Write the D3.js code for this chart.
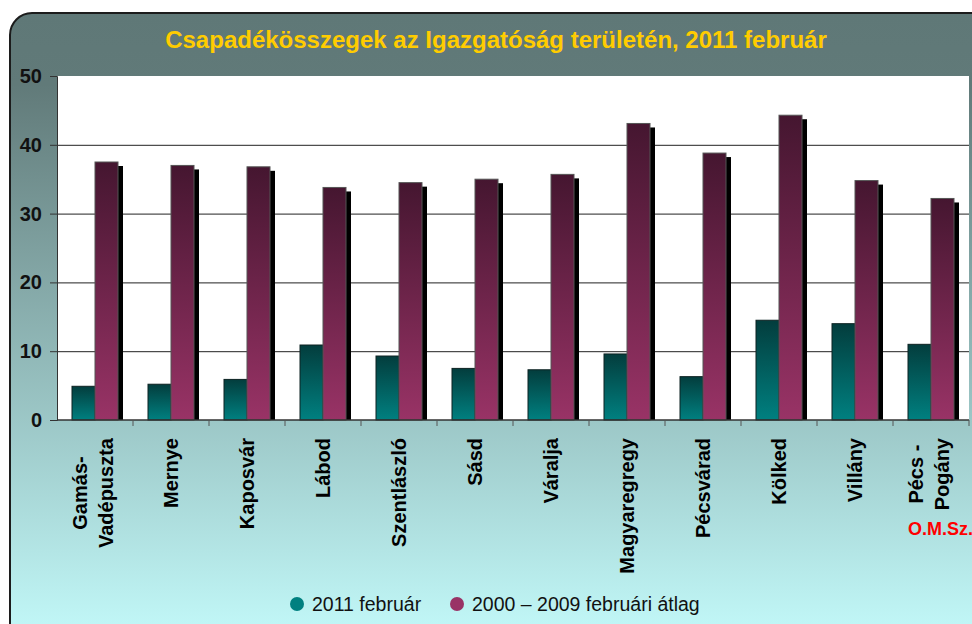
<!DOCTYPE html>
<html>
<head>
<meta charset="utf-8">
<script src="https://cdn.jsdelivr.net/npm/d3@7"></script>
<style>
  body { margin: 0; background: #fff; }
  svg { display: block; font-family: "Liberation Sans", Arial, sans-serif; }
</style>
</head>
<body>
<svg class="chart"></svg>
<script>
var width = 972,
    height = 624;

// data
var stations = ["Gamás-|Vadépuszta", "Mernye", "Kaposvár", "Lábod", "Szentlászló", "Sásd",
                "Váralja", "Magyaregregy", "Pécsvárad", "Kölked", "Villány", "Pécs -|Pogány"];
var feb2011 = [4.9, 5.2, 5.9, 10.9, 9.3, 7.5, 7.3, 9.6, 6.3, 14.5, 14.0, 11.0];
var avg0009 = [37.5, 37.0, 36.8, 33.8, 34.5, 35.0, 35.7, 43.1, 38.8, 44.3, 34.8, 32.2];
var seriesNames = ["2011 február", "2000 – 2009 februári átlag"];
var yTicks = [0, 10, 20, 30, 40, 50];

var margin = {left: 57, right: 3, top: 76, bottom: 204};

var x = d3.scaleBand()
    .domain(stations)
    .range([margin.left, width - margin.right])
    .padding(0);
var barW = 23;
var y = d3.scaleLinear()
    .domain([0, 50])
    .range([height - margin.bottom, margin.top]);

var chart = d3.select(".chart")
    .attr("width", width)
    .attr("height", height);

var defs = chart.append("defs");
var bg = defs.append("linearGradient").attr("id", "bg")
    .attr("x1", 0).attr("y1", 0).attr("x2", 0).attr("y2", 1);
bg.append("stop").attr("offset", "0%").attr("stop-color", "#5f7877");
bg.append("stop").attr("offset", "11%").attr("stop-color", "#617a79");
bg.append("stop").attr("offset", "100%").attr("stop-color", "#c7ffff");

function barGrad(id, top, bottom) {
  var g = defs.append("linearGradient").attr("id", id)
      .attr("x1", 0).attr("y1", 0).attr("x2", 0).attr("y2", 1);
  g.append("stop").attr("offset", "0%").attr("stop-color", top);
  g.append("stop").attr("offset", "100%").attr("stop-color", bottom);
}
barGrad("gTeal", "#033d3d", "#008080");
barGrad("gPurple", "#451630", "#993366");

// frame
chart.append("rect")
    .attr("x", 10).attr("y", 13)
    .attr("width", 990).attr("height", 650)
    .attr("rx", 22).attr("ry", 22)
    .attr("fill", "url(#bg)")
    .attr("stroke", "#1c1c1c")
    .attr("stroke-width", 2);

chart.append("text")
    .attr("x", 496).attr("y", 48)
    .attr("text-anchor", "middle")
    .attr("fill", "#ffcc00")
    .style("font-weight", "bold")
    .style("font-size", "24px")
    .text("Csapadékösszegek az Igazgatóság területén, 2011 február");

// plot area
chart.append("rect")
    .attr("x", margin.left).attr("y", y(50))
    .attr("width", x.range()[1] - margin.left)
    .attr("height", y(0) - y(50))
    .attr("fill", "#fff");

chart.append("g").selectAll("line")
    .data(yTicks.filter(function(d) { return d > 0 && d < 50; }))
  .enter().append("line")
    .attr("x1", margin.left).attr("x2", x.range()[1])
    .attr("y1", function(d) { return y(d) + 0.5; })
    .attr("y2", function(d) { return y(d) + 0.5; })
    .attr("stroke", "#222")
    .attr("stroke-width", 1);

// bars
var groups = chart.append("g").selectAll("g")
    .data(stations)
  .enter().append("g")
    .attr("transform", function(d) { return "translate(" + (x(d) + x.bandwidth() / 2) + ",0)"; });

groups.append("rect") // shadow
    .attr("x", 5)
    .attr("y", function(d, i) { return y(avg0009[i]) + 4; })
    .attr("width", barW)
    .attr("height", function(d, i) { return y(0) - y(avg0009[i]) - 4; })
    .attr("fill", "#000");

groups.append("rect")
    .attr("x", -barW)
    .attr("y", function(d, i) { return y(feb2011[i]); })
    .attr("width", barW)
    .attr("height", function(d, i) { return y(0) - y(feb2011[i]); })
    .attr("fill", "url(#gTeal)")
    .attr("stroke", "#0d2222")
    .attr("stroke-width", 1);

groups.append("rect")
    .attr("x", 0)
    .attr("y", function(d, i) { return y(avg0009[i]); })
    .attr("width", barW)
    .attr("height", function(d, i) { return y(0) - y(avg0009[i]); })
    .attr("fill", "url(#gPurple)")
    .attr("stroke", "#555")
    .attr("stroke-width", 1);

// axes
var yAxis = chart.append("g")
    .attr("transform", "translate(" + margin.left + ",0)")
    .call(d3.axisLeft(y).tickValues(yTicks).tickSize(7).tickPadding(8));
yAxis.select(".domain").attr("stroke", "#333");
yAxis.selectAll(".tick line").attr("stroke", "#333");
yAxis.selectAll("text")
    .attr("fill", "#111")
    .style("font-size", "20px")
    .style("font-weight", "bold")
    .style("font-family", "'Liberation Sans', Arial, sans-serif");

var xAxis = chart.append("g")
    .attr("transform", "translate(0," + y(0) + ")");
xAxis.append("line")
    .attr("x1", margin.left).attr("x2", x.range()[1])
    .attr("stroke", "#333").attr("stroke-width", 1.5);
xAxis.selectAll(".tk")
    .data(stations)
  .enter().append("line")
    .attr("class", "tk")
    .attr("x1", function(d) { return x(d) + x.bandwidth(); })
    .attr("x2", function(d) { return x(d) + x.bandwidth(); })
    .attr("y1", 0).attr("y2", 6)
    .attr("stroke", "#555");

// category labels, rotated, multi-line ones centred on each other
var labelG = chart.append("g").selectAll("g")
    .data(stations)
  .enter().append("g")
    .attr("transform", function(d) { return "translate(" + (x(d) + x.bandwidth() / 2) + "," + (y(0) + 18) + ") rotate(-90)"; });
labelG.each(function(d) {
  var parts = d.split("|");
  var g = d3.select(this);
  var texts = parts.map(function(p, j) {
    return g.append("text")
      .attr("y", parts.length > 1 ? (j - 0.5) * 26 - 2 : 0)
      .attr("dy", "0.35em")
      .attr("text-anchor", "middle")
      .attr("fill", "#000")
      .style("font-size", "20px")
      .style("font-weight", "bold")
      .text(p);
  });
  var maxLen = d3.max(texts, function(t) { return t.node().getComputedTextLength(); });
  texts.forEach(function(t) { t.attr("x", -maxLen / 2); });
});

chart.append("text")
    .attr("x", 908).attr("y", 535)
    .attr("fill", "#ff0000")
    .style("font-size", "18px")
    .style("font-weight", "bold")
    .text("O.M.Sz.");

// legend
var legendX = [297, 457];
var legend = chart.append("g").selectAll("g")
    .data(seriesNames)
  .enter().append("g")
    .attr("transform", function(d, i) { return "translate(" + legendX[i] + ",604)"; });
legend.append("circle")
    .attr("r", 7)
    .attr("fill", function(d, i) { return i === 0 ? "#008080" : "#993366"; });
legend.append("text")
    .attr("x", 15)
    .attr("dy", "0.35em")
    .attr("fill", "#111")
    .style("font-size", "19.5px")
    .text(function(d) { return d; });
</script>
</body>
</html>
